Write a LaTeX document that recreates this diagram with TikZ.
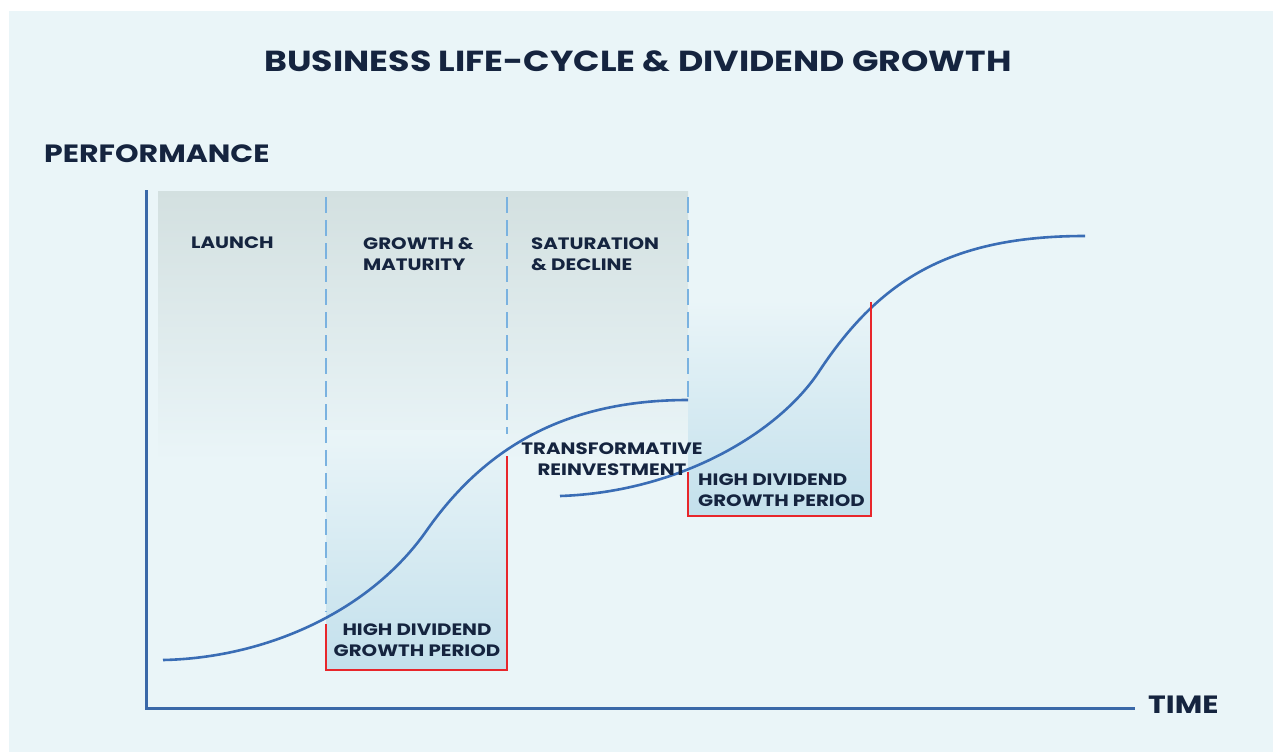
\documentclass[tikz,border=0pt]{standalone}
\usepackage{fontspec}
\setmainfont{Poppins}[FakeStretch=1.2]
\definecolor{panel}{HTML}{EAF5F8}
\definecolor{shadegrey}{HTML}{D3E0E0}
\definecolor{shadeblue}{HTML}{C3E0EC}
\definecolor{curveblue}{HTML}{3A6DB5}
\definecolor{axisblue}{HTML}{3A68A8}
\definecolor{dashblue}{HTML}{7AB2E0}
\definecolor{periodred}{HTML}{E8262B}
\definecolor{inkblue}{HTML}{15243F}
\tikzset{
  label/.style={text=inkblue, font=\bfseries\fontsize{16.5}{21.5}\selectfont, inner sep=0pt},
  phaseline/.style={dashblue, line width=2pt, dash pattern=on 16pt off 7pt},
  lifecurve/.style={curveblue, line width=2.6pt},
  periodline/.style={periodred, line width=2.8pt},
  axisline/.style={axisblue, line width=3pt}
}
\begin{document}
\begin{tikzpicture}[x=1pt, y=-1pt]
    \useasboundingbox (0,0) rectangle (1273,754);
    \fill [white] (0,0) rectangle (1273,754);
    \fill [panel] (9,11) rectangle (1273,752);
    % shaded phases
    \shade [top color=shadegrey, bottom color=panel] (158,191) rectangle (688,462);
    \shade [top color=panel, bottom color=shadeblue] (326,430) rectangle (507,670);
    \shade [top color=panel, bottom color=shadeblue] (688,300) rectangle (871,516);
    % phase borders
    \draw [phaseline] (326,197) -- (326,612);
    \draw [phaseline] (507,197) -- (507,434);
    \draw [phaseline] (688,197) -- (688,400);
    % life-cycle curves
    \draw [lifecurve] (163,660) .. controls (265,658) and (370,612) .. (427,530)
        .. controls (482,452) and (560,400) .. (688,400);
    \draw [lifecurve] (560,496) .. controls (680,492) and (780,432) .. (820,370)
        .. controls (880,280) and (950,236) .. (1085,236);
    % high dividend growth periods
    \draw [periodline] (326,624) -- (326,670) -- (507,670) -- (507,456);
    \draw [periodline] (688,472) -- (688,516) -- (871,516) -- (871,302);
    % axes
    \coordinate (top) at (146,190);
    \coordinate (origin) at (146,708);
    \coordinate (end) at (1135,708);
    \draw [axisline] (top) -- (origin) -- (end);
    % texts
    \node (title) at (638,61) [text=inkblue, font=\bfseries\fontsize{29}{34}\selectfont] {BUSINESS LIFE-CYCLE \& DIVIDEND GROWTH};
    \node (perf) at (44,154) [anchor=west, text=inkblue, font=\bfseries\fontsize{25}{30}\selectfont, inner sep=0pt] {PERFORMANCE};
    \node (time) at (1148,705) [anchor=west, text=inkblue, font=\bfseries\fontsize{25}{30}\selectfont, inner sep=0pt] {TIME};
    \node (launch) at (191,243) [label, anchor=west] {LAUNCH};
    \node (growth) at (363,254) [label, anchor=west, align=left] {GROWTH \&\\MATURITY};
    \node (saturation) at (531,254) [label, anchor=west, align=left] {SATURATION\\\& DECLINE};
    \node (transform) at (612,459) [label, align=center] {TRANSFORMATIVE\\REINVESTMENT};
    \node (period1) at (417,640) [label, align=center] {HIGH DIVIDEND\\GROWTH PERIOD};
    \node (period2) at (698,490) [label, anchor=west, align=left] {HIGH DIVIDEND\\GROWTH PERIOD};
\end{tikzpicture}
\end{document}
